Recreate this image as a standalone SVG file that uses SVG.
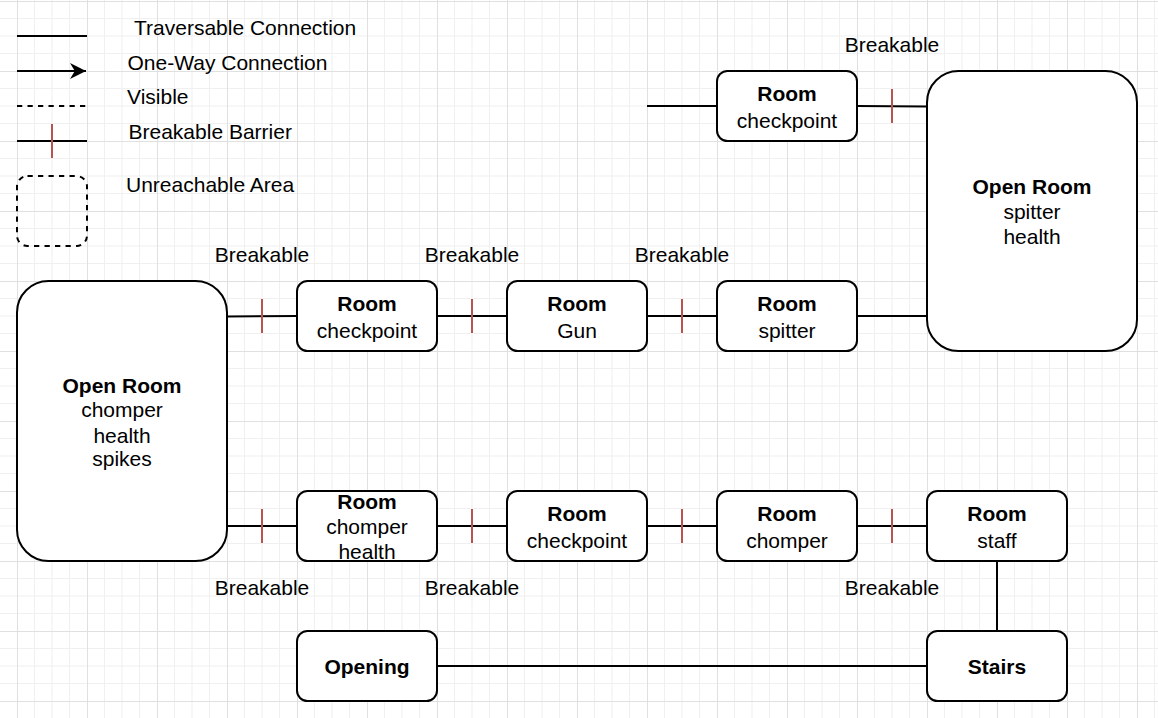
<svg xmlns="http://www.w3.org/2000/svg" width="1158" height="718" viewBox="0 0 1158 718">
<defs>
<pattern id="grid" patternUnits="userSpaceOnUse" x="17" y="1" width="70" height="70">
<rect x="0" y="0" width="70" height="70" fill="#ffffff"/>
<g stroke="#f0f0f0" stroke-width="1">
<line x1="17.5" y1="0" x2="17.5" y2="70"/><line x1="35" y1="0" x2="35" y2="70"/><line x1="52.5" y1="0" x2="52.5" y2="70"/>
<line x1="0" y1="17.5" x2="70" y2="17.5"/><line x1="0" y1="35" x2="70" y2="35"/><line x1="0" y1="52.5" x2="70" y2="52.5"/>
</g>
<g stroke="#e0e0e0" stroke-width="1">
<line x1="0.5" y1="0" x2="0.5" y2="70"/><line x1="0" y1="0.5" x2="70" y2="0.5"/>
</g>
</pattern>
<marker id="arrow" viewBox="0 0 10 10" refX="10" refY="5" markerWidth="8" markerHeight="8" markerUnits="strokeWidth" orient="auto">
<path d="M0,0 L10,5 L0,10 L3,5 Z" fill="#000"/>
</marker>
<style>
text{font-family:"Liberation Sans",Arial,Helvetica,sans-serif;font-size:21px;fill:#000}
.c{text-anchor:middle}
.b{font-weight:bold}
.node{fill:#fff;stroke:#000;stroke-width:2}
.edge{fill:none;stroke:#000;stroke-width:2}
.dash{stroke-dasharray:5.25 5.25}
.tick{stroke:#b85450;stroke-width:2}
</style>
</defs>
<rect x="0" y="0" width="1158" height="718" fill="url(#grid)"/>

<g id="legend">
<line class="edge" x1="17" y1="36" x2="87" y2="36"/>
<text x="134" y="35">Traversable Connection</text>
<line class="edge" x1="17" y1="71" x2="86" y2="71" marker-end="url(#arrow)"/>
<text x="127.5" y="70">One-Way Connection</text>
<line class="edge dash" x1="17" y1="106" x2="87" y2="106"/>
<text x="127" y="104">Visible</text>
<line class="edge" x1="17" y1="141" x2="87" y2="141"/>
<line class="tick" x1="52" y1="124" x2="52" y2="158"/>
<text x="128.5" y="139">Breakable Barrier</text>
<rect class="edge dash" x="17" y="176" width="70" height="70" rx="10.5" ry="10.5"/>
<text x="126" y="192">Unreachable Area</text>
</g>

<g id="connectors">
<line class="edge" x1="647" y1="106" x2="717" y2="106"/>
<line class="edge" x1="857" y1="106" x2="927" y2="106.5"/>
<line class="tick" x1="892" y1="89" x2="892" y2="123"/>

<line class="edge" x1="227" y1="316.5" x2="297" y2="316"/>
<line class="tick" x1="262" y1="299" x2="262" y2="333"/>
<line class="edge" x1="437" y1="316" x2="507" y2="316"/>
<line class="tick" x1="472" y1="299" x2="472" y2="333"/>
<line class="edge" x1="647" y1="316" x2="717" y2="316"/>
<line class="tick" x1="682" y1="299" x2="682" y2="333"/>
<line class="edge" x1="857" y1="316" x2="927" y2="316"/>

<line class="edge" x1="227" y1="526" x2="297" y2="526"/>
<line class="tick" x1="262" y1="509" x2="262" y2="543"/>
<line class="edge" x1="437" y1="526" x2="507" y2="526"/>
<line class="tick" x1="472" y1="509" x2="472" y2="543"/>
<line class="edge" x1="647" y1="526" x2="717" y2="526"/>
<line class="tick" x1="682" y1="509" x2="682" y2="543"/>
<line class="edge" x1="857" y1="526" x2="927" y2="526"/>
<line class="tick" x1="892" y1="509" x2="892" y2="543"/>

<line class="edge" x1="997" y1="561" x2="997" y2="631"/>
<line class="edge" x1="437" y1="666" x2="927" y2="666"/>

<text class="c" x="892" y="52">Breakable</text>
<text class="c" x="262" y="262">Breakable</text>
<text class="c" x="472" y="262">Breakable</text>
<text class="c" x="682" y="262">Breakable</text>
<text class="c" x="262" y="595">Breakable</text>
<text class="c" x="472" y="595">Breakable</text>
<text class="c" x="892" y="595">Breakable</text>
</g>

<g id="room-top-checkpoint">
<rect class="node" x="717" y="71" width="140" height="70" rx="10.5" ry="10.5"/>
<text class="c b" x="787" y="101">Room</text>
<text class="c" x="787" y="127.5">checkpoint</text>
</g>

<g id="open-room-spitter">
<rect class="node" x="927" y="71" width="210" height="280" rx="31.5" ry="31.5"/>
<text class="c b" x="1032" y="193.5">Open Room</text>
<text class="c" x="1032" y="218.5">spitter</text>
<text class="c" x="1032" y="244">health</text>
</g>

<g id="open-room-chomper">
<rect class="node" x="17" y="281" width="210" height="280" rx="31.5" ry="31.5"/>
<text class="c b" x="122" y="392.5">Open Room</text>
<text class="c" x="122" y="416.5">chomper</text>
<text class="c" x="122" y="443">health</text>
<text class="c" x="122" y="466">spikes</text>
</g>

<g id="room-checkpoint-1">
<rect class="node" x="297" y="281" width="140" height="70" rx="10.5" ry="10.5"/>
<text class="c b" x="367" y="311">Room</text>
<text class="c" x="367" y="337.5">checkpoint</text>
</g>

<g id="room-gun">
<rect class="node" x="507" y="281" width="140" height="70" rx="10.5" ry="10.5"/>
<text class="c b" x="577" y="311">Room</text>
<text class="c" x="577" y="337.5">Gun</text>
</g>

<g id="room-spitter">
<rect class="node" x="717" y="281" width="140" height="70" rx="10.5" ry="10.5"/>
<text class="c b" x="787" y="311">Room</text>
<text class="c" x="787" y="337.5">spitter</text>
</g>

<g id="room-chomper-health">
<rect class="node" x="297" y="491" width="140" height="70" rx="10.5" ry="10.5"/>
<text class="c b" x="367" y="509">Room</text>
<text class="c" x="367" y="534">chomper</text>
<text class="c" x="367" y="559">health</text>
</g>

<g id="room-checkpoint-2">
<rect class="node" x="507" y="491" width="140" height="70" rx="10.5" ry="10.5"/>
<text class="c b" x="577" y="521">Room</text>
<text class="c" x="577" y="547.5">checkpoint</text>
</g>

<g id="room-chomper">
<rect class="node" x="717" y="491" width="140" height="70" rx="10.5" ry="10.5"/>
<text class="c b" x="787" y="521">Room</text>
<text class="c" x="787" y="547.5">chomper</text>
</g>

<g id="room-staff">
<rect class="node" x="927" y="491" width="140" height="70" rx="10.5" ry="10.5"/>
<text class="c b" x="997" y="521">Room</text>
<text class="c" x="997" y="547.5">staff</text>
</g>

<g id="opening">
<rect class="node" x="297" y="631" width="140" height="70" rx="10.5" ry="10.5"/>
<text class="c b" x="367" y="673.5">Opening</text>
</g>

<g id="stairs">
<rect class="node" x="927" y="631" width="140" height="70" rx="10.5" ry="10.5"/>
<text class="c b" x="997" y="673.5">Stairs</text>
</g>
</svg>
